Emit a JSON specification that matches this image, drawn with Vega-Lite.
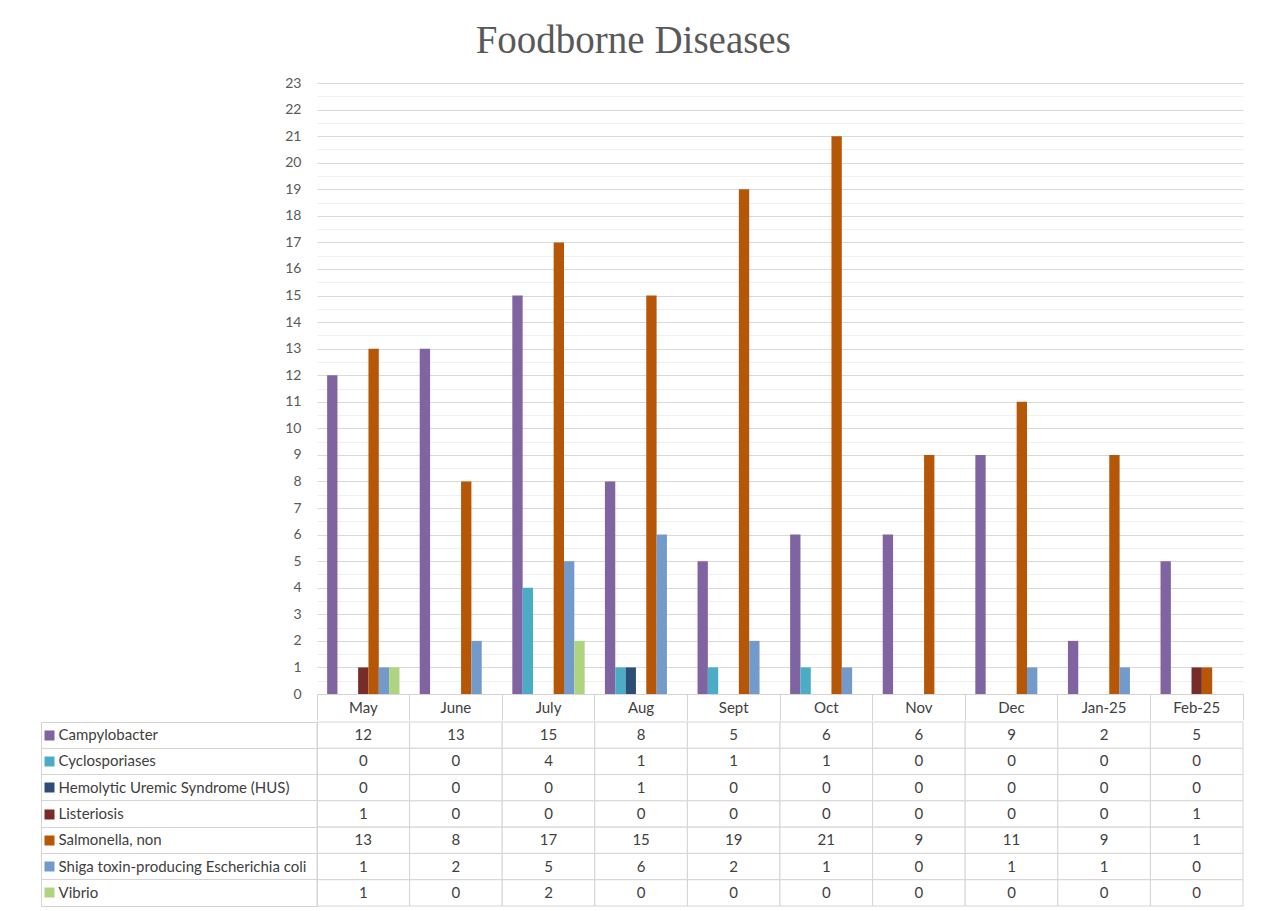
{
  "$schema": "https://vega.github.io/schema/vega-lite/v6.json",
  "padding": {"left": 39, "top": 22, "right": 21, "bottom": 5},
  "background": "white",
  "title": {"text": "Foodborne Diseases", "font": "Liberation Serif", "fontSize": 39, "fontWeight": "normal", "color": "#595959", "anchor": "middle", "frame": "bounds", "offset": 15, "dx": -8},
  "config": {"font": "Lato", "view": {"stroke": null}},
  "spacing": 0,
  "datasets": {
    "d": [
      {"month": "May", "series": "Campylobacter", "count": 12},
      {"month": "June", "series": "Campylobacter", "count": 13},
      {"month": "July", "series": "Campylobacter", "count": 15},
      {"month": "Aug", "series": "Campylobacter", "count": 8},
      {"month": "Sept", "series": "Campylobacter", "count": 5},
      {"month": "Oct", "series": "Campylobacter", "count": 6},
      {"month": "Nov", "series": "Campylobacter", "count": 6},
      {"month": "Dec", "series": "Campylobacter", "count": 9},
      {"month": "Jan-25", "series": "Campylobacter", "count": 2},
      {"month": "Feb-25", "series": "Campylobacter", "count": 5},
      {"month": "May", "series": "Cyclosporiases", "count": 0},
      {"month": "June", "series": "Cyclosporiases", "count": 0},
      {"month": "July", "series": "Cyclosporiases", "count": 4},
      {"month": "Aug", "series": "Cyclosporiases", "count": 1},
      {"month": "Sept", "series": "Cyclosporiases", "count": 1},
      {"month": "Oct", "series": "Cyclosporiases", "count": 1},
      {"month": "Nov", "series": "Cyclosporiases", "count": 0},
      {"month": "Dec", "series": "Cyclosporiases", "count": 0},
      {"month": "Jan-25", "series": "Cyclosporiases", "count": 0},
      {"month": "Feb-25", "series": "Cyclosporiases", "count": 0},
      {"month": "May", "series": "Hemolytic Uremic Syndrome (HUS)", "count": 0},
      {"month": "June", "series": "Hemolytic Uremic Syndrome (HUS)", "count": 0},
      {"month": "July", "series": "Hemolytic Uremic Syndrome (HUS)", "count": 0},
      {"month": "Aug", "series": "Hemolytic Uremic Syndrome (HUS)", "count": 1},
      {"month": "Sept", "series": "Hemolytic Uremic Syndrome (HUS)", "count": 0},
      {"month": "Oct", "series": "Hemolytic Uremic Syndrome (HUS)", "count": 0},
      {"month": "Nov", "series": "Hemolytic Uremic Syndrome (HUS)", "count": 0},
      {"month": "Dec", "series": "Hemolytic Uremic Syndrome (HUS)", "count": 0},
      {"month": "Jan-25", "series": "Hemolytic Uremic Syndrome (HUS)", "count": 0},
      {"month": "Feb-25", "series": "Hemolytic Uremic Syndrome (HUS)", "count": 0},
      {"month": "May", "series": "Listeriosis", "count": 1},
      {"month": "June", "series": "Listeriosis", "count": 0},
      {"month": "July", "series": "Listeriosis", "count": 0},
      {"month": "Aug", "series": "Listeriosis", "count": 0},
      {"month": "Sept", "series": "Listeriosis", "count": 0},
      {"month": "Oct", "series": "Listeriosis", "count": 0},
      {"month": "Nov", "series": "Listeriosis", "count": 0},
      {"month": "Dec", "series": "Listeriosis", "count": 0},
      {"month": "Jan-25", "series": "Listeriosis", "count": 0},
      {"month": "Feb-25", "series": "Listeriosis", "count": 1},
      {"month": "May", "series": "Salmonella, non", "count": 13},
      {"month": "June", "series": "Salmonella, non", "count": 8},
      {"month": "July", "series": "Salmonella, non", "count": 17},
      {"month": "Aug", "series": "Salmonella, non", "count": 15},
      {"month": "Sept", "series": "Salmonella, non", "count": 19},
      {"month": "Oct", "series": "Salmonella, non", "count": 21},
      {"month": "Nov", "series": "Salmonella, non", "count": 9},
      {"month": "Dec", "series": "Salmonella, non", "count": 11},
      {"month": "Jan-25", "series": "Salmonella, non", "count": 9},
      {"month": "Feb-25", "series": "Salmonella, non", "count": 1},
      {"month": "May", "series": "Shiga toxin-producing Escherichia coli", "count": 1},
      {"month": "June", "series": "Shiga toxin-producing Escherichia coli", "count": 2},
      {"month": "July", "series": "Shiga toxin-producing Escherichia coli", "count": 5},
      {"month": "Aug", "series": "Shiga toxin-producing Escherichia coli", "count": 6},
      {"month": "Sept", "series": "Shiga toxin-producing Escherichia coli", "count": 2},
      {"month": "Oct", "series": "Shiga toxin-producing Escherichia coli", "count": 1},
      {"month": "Nov", "series": "Shiga toxin-producing Escherichia coli", "count": 0},
      {"month": "Dec", "series": "Shiga toxin-producing Escherichia coli", "count": 1},
      {"month": "Jan-25", "series": "Shiga toxin-producing Escherichia coli", "count": 1},
      {"month": "Feb-25", "series": "Shiga toxin-producing Escherichia coli", "count": 0},
      {"month": "May", "series": "Vibrio", "count": 1},
      {"month": "June", "series": "Vibrio", "count": 0},
      {"month": "July", "series": "Vibrio", "count": 2},
      {"month": "Aug", "series": "Vibrio", "count": 0},
      {"month": "Sept", "series": "Vibrio", "count": 0},
      {"month": "Oct", "series": "Vibrio", "count": 0},
      {"month": "Nov", "series": "Vibrio", "count": 0},
      {"month": "Dec", "series": "Vibrio", "count": 0},
      {"month": "Jan-25", "series": "Vibrio", "count": 0},
      {"month": "Feb-25", "series": "Vibrio", "count": 0}
    ]
  },
  "vconcat": [
    {
      "width": 926,
      "height": 611,
      "data": {"name": "d"},
      "layer": [
        {
          "mark": {"type": "bar"},
          "encoding": {
            "x": {"field": "month", "type": "nominal", "sort": ["May","June","July","Aug","Sept","Oct","Nov","Dec","Jan-25","Feb-25"], "scale": {"paddingInner": 0, "paddingOuter": 0},
              "axis": {"title": null, "orient": "bottom", "bandPosition": 0, "tickSize": 26, "tickColor": "#d4d4d4", "domainColor": "#d4d4d4", "labelAngle": 0, "labelPadding": -13, "labelBaseline": "middle", "labelFontSize": 15, "labelColor": "#404040"}},
            "xOffset": {"field": "series", "type": "nominal", "sort": ["Campylobacter","Cyclosporiases","Hemolytic Uremic Syndrome (HUS)","Listeriosis","Salmonella, non","Shiga toxin-producing Escherichia coli","Vibrio"], "scale": {"paddingInner": 0, "paddingOuter": 0.98}},
            "y": {"field": "count", "type": "quantitative", "scale": {"domain": [0, 23], "nice": false},
              "axis": {"title": null, "orient": "left", "values": [0,1,2,3,4,5,6,7,8,9,10,11,12,13,14,15,16,17,18,19,20,21,22,23], "grid": true, "gridColor": "#d9d9d9", "domain": false, "ticks": false, "labelPadding": 16, "labelFontSize": 14, "labelColor": "#595959"}},
            "color": {"field": "series", "type": "nominal", "scale": {"domain": ["Campylobacter","Cyclosporiases","Hemolytic Uremic Syndrome (HUS)","Listeriosis","Salmonella, non","Shiga toxin-producing Escherichia coli","Vibrio"], "range": ["#8064A2","#4BACC6","#2C4D75","#772C2A","#B65708","#729ACA","#AFD480"]}, "legend": null}
          }
        },
        {
          "mark": {"type": "bar", "opacity": 0},
          "encoding": {
            "x": {"field": "month", "type": "nominal", "sort": ["May","June","July","Aug","Sept","Oct","Nov","Dec","Jan-25","Feb-25"],
              "axis": {"title": null, "orient": "bottom", "bandPosition": 1, "tickSize": 26, "tickColor": "#d4d4d4", "labels": false, "domain": false}},
            "xOffset": {"field": "series", "type": "nominal", "sort": ["Campylobacter","Cyclosporiases","Hemolytic Uremic Syndrome (HUS)","Listeriosis","Salmonella, non","Shiga toxin-producing Escherichia coli","Vibrio"]},
            "y": {"field": "count", "type": "quantitative",
              "axis": {"title": null, "orient": "left", "values": [0.5,1.5,2.5,3.5,4.5,5.5,6.5,7.5,8.5,9.5,10.5,11.5,12.5,13.5,14.5,15.5,16.5,17.5,18.5,19.5,20.5,21.5,22.5], "grid": true, "gridColor": "#f0f0f0", "domain": false, "ticks": false, "labels": false}}
          }
        }
      ],
      "resolve": {"axis": {"x": "independent", "y": "independent"}}
    },
    {
      "width": 926,
      "height": 184,
      "data": {"name": "d"},
      "layer": [
        {
          "mark": {"type": "rect", "fill": "white", "stroke": "#d4d4d4", "strokeWidth": 1},
          "encoding": {
            "x": {"field": "month", "type": "nominal", "sort": ["May","June","July","Aug","Sept","Oct","Nov","Dec","Jan-25","Feb-25"], "scale": {"paddingInner": 0, "paddingOuter": 0}, "axis": null},
            "y": {"field": "series", "type": "nominal", "sort": ["Campylobacter","Cyclosporiases","Hemolytic Uremic Syndrome (HUS)","Listeriosis","Salmonella, non","Shiga toxin-producing Escherichia coli","Vibrio"], "scale": {"paddingInner": 0, "paddingOuter": 0},
              "axis": {"title": null, "orient": "left", "bandPosition": 0, "tickSize": 276, "tickColor": "#d4d4d4", "domainColor": "#d4d4d4", "labelAlign": "left", "labelPadding": -17, "labelBaseline": "middle", "labelFontSize": 15, "labelColor": "#404040", "labelLimit": 0}}
          }
        },
        {
          "mark": {"type": "text", "fontSize": 15, "color": "#404040"},
          "encoding": {
            "x": {"field": "month", "type": "nominal", "sort": ["May","June","July","Aug","Sept","Oct","Nov","Dec","Jan-25","Feb-25"], "axis": null},
            "y": {"field": "series", "type": "nominal", "sort": ["Campylobacter","Cyclosporiases","Hemolytic Uremic Syndrome (HUS)","Listeriosis","Salmonella, non","Shiga toxin-producing Escherichia coli","Vibrio"],
              "axis": {"title": null, "orient": "left", "offset": 276, "bandPosition": 1, "tickSize": -276, "tickColor": "#d4d4d4", "domainColor": "#d4d4d4", "labels": false}},
            "text": {"field": "count", "type": "quantitative"}
          }
        },
        {
          "mark": {"type": "text", "opacity": 0},
          "encoding": {
            "x": {"field": "month", "type": "nominal", "sort": ["May","June","July","Aug","Sept","Oct","Nov","Dec","Jan-25","Feb-25"], "axis": null},
            "y": {"field": "series", "type": "nominal", "sort": ["Campylobacter","Cyclosporiases","Hemolytic Uremic Syndrome (HUS)","Listeriosis","Salmonella, non","Shiga toxin-producing Escherichia coli","Vibrio"],
              "axis": {"title": null, "orient": "left", "offset": 273, "domain": false, "labels": false, "tickSize": -10, "tickWidth": 10,
                "tickColor": {"condition": [
                  {"test": "datum.value === 'Campylobacter'", "value": "#8064A2"},
                  {"test": "datum.value === 'Cyclosporiases'", "value": "#4BACC6"},
                  {"test": "datum.value === 'Hemolytic Uremic Syndrome (HUS)'", "value": "#2C4D75"},
                  {"test": "datum.value === 'Listeriosis'", "value": "#772C2A"},
                  {"test": "datum.value === 'Salmonella, non'", "value": "#B65708"},
                  {"test": "datum.value === 'Shiga toxin-producing Escherichia coli'", "value": "#729ACA"}
                ], "value": "#AFD480"}}},
            "text": {"field": "count", "type": "quantitative"}
          }
        }
      ],
      "resolve": {"axis": {"y": "independent"}}
    }
  ]
}
